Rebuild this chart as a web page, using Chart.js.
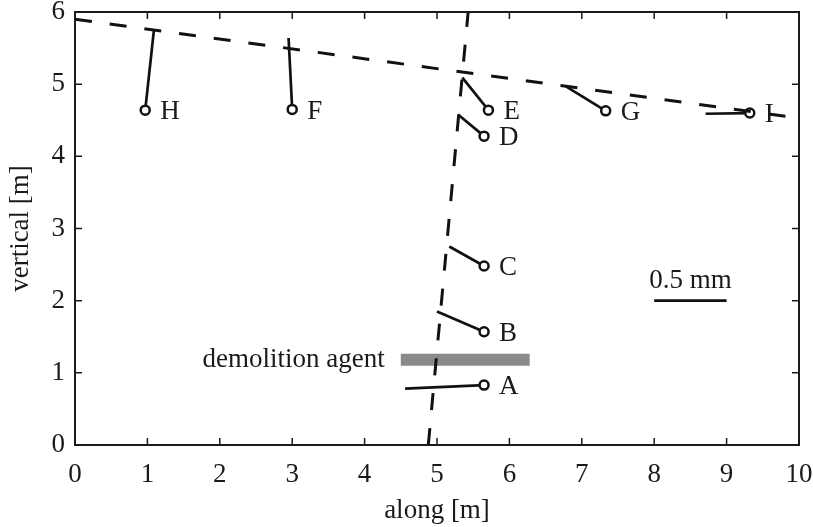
<!DOCTYPE html>
<html>
<head>
<meta charset="utf-8">
<script src="https://cdn.jsdelivr.net/npm/chart.js@4.4.0/dist/chart.umd.min.js"></script>
<style>
  body { margin: 0; background: #fff; }
  #wrap { width: 813px; height: 527px; }
</style>
</head>
<body>
<div id="wrap"><canvas id="crackChart" width="813" height="527"></canvas></div>
<script>
// gauge positions (circle) and where the displacement arrow ends
const gaugeNames = ['A', 'B', 'C', 'D', 'E', 'F', 'G', 'H', 'I'];
const gaugeX = [5.65, 5.65, 5.65, 5.65, 5.71, 3.00, 7.33, 0.97, 9.32];
const gaugeY = [0.83, 1.57, 2.48, 4.28, 4.64, 4.65, 4.63, 4.64, 4.60];
const tipX = [4.56, 5.00, 5.17, 5.29, 5.35, 2.95, 6.78, 1.09, 8.71];
const tipY = [0.78, 1.85, 2.75, 4.58, 5.09, 5.64, 4.97, 5.75, 4.59];

// crack traces
const crackHorizX = [0, 10];
const crackHorizY = [5.90, 4.53];
const crackVertX = [4.88, 5.43];
const crackVertY = [0, 6];

// demolition agent hole and scale bar
const agentX = [4.50, 6.28];
const agentY = [1.18, 1.18];
const scaleBarX = [8, 9];
const scaleBarY = [2, 2];

const xTicks = [0, 1, 2, 3, 4, 5, 6, 7, 8, 9, 10];
const yTicks = [0, 1, 2, 3, 4, 5, 6];

const FONT = 'Liberation Serif';
const FONT_SIZE = 27;
const INK = '#1a1a1a';

const toPoints = (xs, ys) => xs.map((x, i) => ({x, y: ys[i]}));

const datasets = [
    {
        label: 'crack 1',
        data: toPoints(crackHorizX, crackHorizY),
        borderColor: '#111',
        borderWidth: 3,
        borderDash: [17, 18],
        pointRadius: 0,
    },
    {
        label: 'crack 2',
        data: toPoints(crackVertX, crackVertY),
        borderColor: '#111',
        borderWidth: 3,
        borderDash: [17, 18],
        pointRadius: 0,
    },
    {
        label: 'demolition agent',
        data: toPoints(agentX, agentY),
        borderColor: '#8a8a8a',
        borderWidth: 12,
        borderCapStyle: 'butt',
        pointRadius: 0,
    },
    {
        label: '0.5 mm',
        data: toPoints(scaleBarX, scaleBarY),
        borderColor: '#111',
        borderWidth: 2.7,
        borderCapStyle: 'butt',
        pointRadius: 0,
    },
];

gaugeNames.forEach((name, i) => {
    datasets.push({
        label: name,
        data: [{x: tipX[i], y: tipY[i]}, {x: gaugeX[i], y: gaugeY[i]}],
        borderColor: '#111',
        borderWidth: 2.7,
        pointRadius: [0, 4.5],
        pointBorderWidth: 2.5,
        pointBorderColor: '#111',
        pointBackgroundColor: '#fff',
    });
});

// frame, inward ticks and text labels
const framePlugin = {
    id: 'frame',
    afterDatasetsDraw(chart) {
        const {ctx, chartArea: a, scales: {x, y}} = chart;
        ctx.save();
        ctx.strokeStyle = INK;
        ctx.lineWidth = 2;
        ctx.strokeRect(a.left, a.top, a.right - a.left, a.bottom - a.top);

        const len = 7;
        ctx.lineWidth = 1.5;
        ctx.beginPath();
        xTicks.slice(1, -1).forEach(v => {
            const px = x.getPixelForValue(v);
            ctx.moveTo(px, a.bottom); ctx.lineTo(px, a.bottom - len);
            ctx.moveTo(px, a.top); ctx.lineTo(px, a.top + len);
        });
        yTicks.slice(1, -1).forEach(v => {
            const py = y.getPixelForValue(v);
            ctx.moveTo(a.left, py); ctx.lineTo(a.left + len, py);
            ctx.moveTo(a.right, py); ctx.lineTo(a.right - len, py);
        });
        ctx.stroke();

        ctx.fillStyle = INK;
        ctx.font = `${FONT_SIZE}px "${FONT}"`;
        ctx.textBaseline = 'middle';
        ctx.textAlign = 'left';
        gaugeNames.forEach((name, i) => {
            ctx.fillText(name, x.getPixelForValue(gaugeX[i]) + 15, y.getPixelForValue(gaugeY[i]) + 2);
        });

        ctx.textAlign = 'right';
        ctx.fillText('demolition agent', x.getPixelForValue(agentX[0]) - 16, y.getPixelForValue(agentY[0]));

        ctx.textAlign = 'center';
        ctx.fillText('0.5 mm',
            x.getPixelForValue((scaleBarX[0] + scaleBarX[1]) / 2),
            y.getPixelForValue(scaleBarY[0]) - 20);
        ctx.restore();
    }
};

const axisFont = {family: FONT, size: FONT_SIZE};

new Chart(document.getElementById('crackChart'), {
    type: 'scatter',
    data: {datasets},
    options: {
        responsive: false,
        animation: false,
        showLine: true,
        layout: {padding: {left: 0, right: 14, top: 12, bottom: 0}},
        plugins: {legend: {display: false}, tooltip: {enabled: false}},
        scales: {
            x: {
                type: 'linear',
                min: 0,
                max: 10,
                afterBuildTicks: scale => { scale.ticks = xTicks.map(value => ({value})); },
                afterFit: scale => {
                    scale.height = 82;
                    scale.paddingLeft = 0;
                    scale.paddingRight = 0;
                },
                ticks: {font: axisFont, color: INK, padding: 14, maxRotation: 0},
                grid: {display: false, drawTicks: false},
                border: {display: false},
                title: {display: true, text: 'along [m]', font: axisFont, color: INK, padding: {top: 0, bottom: 0}},
            },
            y: {
                type: 'linear',
                min: 0,
                max: 6,
                afterBuildTicks: scale => { scale.ticks = yTicks.map(value => ({value})); },
                afterFit: scale => {
                    scale.width = 75;
                    scale.paddingTop = 0;
                    scale.paddingBottom = 0;
                },
                ticks: {font: axisFont, color: INK, padding: 10},
                grid: {display: false, drawTicks: false},
                border: {display: false},
                title: {display: true, text: 'vertical [m]', font: axisFont, color: INK, padding: {top: 5, bottom: 0}},
            }
        }
    },
    plugins: [framePlugin]
});
</script>
</body>
</html>
